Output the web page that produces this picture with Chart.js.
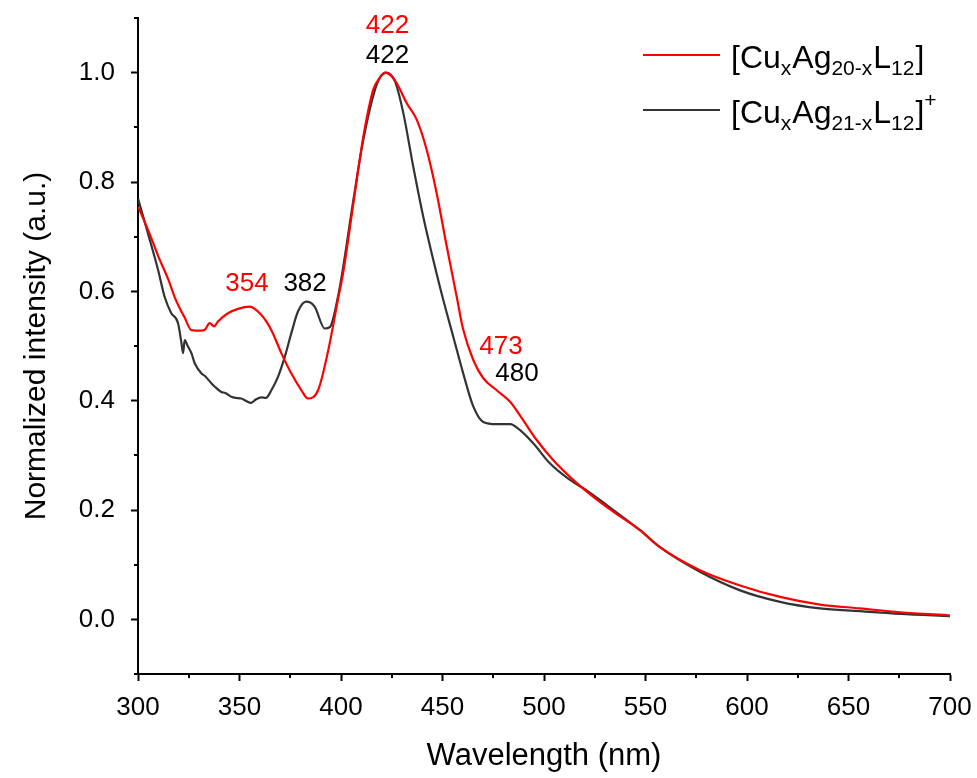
<!DOCTYPE html>
<html>
<head>
<meta charset="utf-8">
<title>Normalized absorption spectra</title>
<script src="https://cdn.jsdelivr.net/npm/chart.js@4.4.1/dist/chart.umd.min.js"></script>
<style>
  html, body { margin: 0; padding: 0; background: #fff; }
  #wrap { width: 977px; height: 778px; }
</style>
</head>
<body>
<div id="wrap"><canvas id="spectra" width="977" height="778"></canvas></div>
<script>
/* ─── Data ───────────────────────────────────────── */
const redLabel   = '[CuxAg20-xL12]';
const blackLabel = '[CuxAg21-xL12]+';

const redX = [300, 305, 310, 315, 318, 321, 323, 326.3, 331.2, 333, 335.3, 337.5, 339.4, 344.3, 349.3,
  355, 360.7, 365.7, 370.6, 375.5, 380.5, 383.7, 388.7, 393.6, 398.5, 401.1, 406.1, 411, 415.9, 419,
  422, 425, 427.4, 432.4, 437.3, 442.2, 447.1, 452.1, 457, 460.2, 465.2, 470.1, 476.7, 483.3, 489.8,
  496.4, 504.6, 514.4, 524.3, 534.1, 547.3, 557.1, 576.8, 596.6, 616.3, 636, 655.7, 675.4, 700];
const redY = [0.755, 0.712, 0.664, 0.621, 0.590, 0.566, 0.552, 0.529, 0.528, 0.530, 0.542, 0.536, 0.545, 0.560, 0.568,
  0.572, 0.557, 0.529, 0.487, 0.450, 0.419, 0.404, 0.419, 0.490, 0.585, 0.635, 0.761, 0.883, 0.969, 0.990,
  1.000, 0.993, 0.981, 0.944, 0.914, 0.859, 0.780, 0.682, 0.590, 0.530, 0.474, 0.441, 0.419, 0.398, 0.364,
  0.328, 0.291, 0.255, 0.224, 0.197, 0.163, 0.132, 0.090, 0.062, 0.041, 0.027, 0.020, 0.013, 0.007];

const blackX = [300, 304.9, 309.9, 313.1, 316.4, 319.7, 321.3, 322.2, 323, 324.5, 326.3, 328, 331.2, 333,
  336.1, 338, 341, 343, 346, 348, 350.9, 353, 355.8, 358, 360.7, 363, 365.7, 369, 372.3, 375.5, 378.8,
  382.9, 387, 392, 394.6, 398.5, 401.1, 406.1, 411, 417.6, 422, 426.6, 430.7, 435.6, 440.5, 445.5,
  450.4, 455.3, 460.2, 465.2, 470.1, 476.7, 483.3, 488.2, 494.7, 503, 512.8, 521, 530.9, 547.3, 557.1,
  576.8, 596.6, 616.3, 636, 655.7, 675.4, 700];
const blackY = [0.770, 0.706, 0.639, 0.590, 0.560, 0.542, 0.508, 0.487, 0.511, 0.500, 0.487, 0.468, 0.450, 0.445,
  0.432, 0.425, 0.416, 0.414, 0.407, 0.405, 0.404, 0.400, 0.396, 0.402, 0.406, 0.405, 0.419, 0.444, 0.480, 0.523, 0.563,
  0.581, 0.572, 0.532, 0.535, 0.590, 0.645, 0.767, 0.877, 0.978, 1.000, 0.984, 0.926, 0.828, 0.737, 0.657,
  0.584, 0.517, 0.450, 0.389, 0.361, 0.357, 0.357, 0.346, 0.322, 0.285, 0.255, 0.236, 0.209, 0.163, 0.132,
  0.087, 0.053, 0.032, 0.020, 0.015, 0.010, 0.006];

const xTicks      = [300, 350, 400, 450, 500, 550, 600, 650, 700];
const xMinorTicks = [325, 375, 425, 475, 525, 575, 625, 675];
const yTicks      = [0.0, 0.2, 0.4, 0.6, 0.8, 1.0];
const yMinorTicks = [-0.1, 0.1, 0.3, 0.5, 0.7, 0.9, 1.1];

// peak labels: text, wavelength (centre), value (baseline)
const peakText  = ['422', '422', '354', '382', '473', '480'];
const peakX     = [422.9, 422.9, 353.7, 382.3, 478.8, 486.7];
const peakY     = [1.073, 1.018, 0.601, 0.601, 0.485, 0.436];
const peakColor = ['#ff0000', '#000000', '#ff0000', '#000000', '#ff0000', '#000000'];

const RED   = '#ff0000';
const BLACK = '#333333';
const FONT  = "'Liberation Sans', Arial, sans-serif";

/* ─── Plugins ────────────────────────────────────── */
const minorTicks = {
  id: 'minorTicks',
  afterDraw(chart) {
    const { ctx, scales: { x, y } } = chart;
    ctx.save();
    ctx.strokeStyle = '#000';
    ctx.lineWidth = 2;
    ctx.beginPath();
    xMinorTicks.forEach(v => {
      const px = Math.round(x.getPixelForValue(v));
      ctx.moveTo(px, y.bottom);
      ctx.lineTo(px, y.bottom + 4);
    });
    yMinorTicks.forEach(v => {
      const py = Math.round(y.getPixelForValue(v));
      ctx.moveTo(x.left, py);
      ctx.lineTo(x.left - 4, py);
    });
    ctx.stroke();
    ctx.restore();
  }
};

const peakLabels = {
  id: 'peakLabels',
  afterDatasetsDraw(chart) {
    const { ctx, scales: { x, y } } = chart;
    ctx.save();
    ctx.font = `26px ${FONT}`;
    ctx.textAlign = 'center';
    ctx.textBaseline = 'alphabetic';
    peakText.forEach((t, i) => {
      ctx.fillStyle = peakColor[i];
      ctx.fillText(t, x.getPixelForValue(peakX[i]), y.getPixelForValue(peakY[i]));
    });
    ctx.restore();
  }
};

// legend with sub/superscripts (Chart.js legend can't do these)
const LEGEND_PARTS = [
  [['[Cu'], ['x', 'sub'], ['Ag'], ['20-x', 'sub'], ['L'], ['12', 'sub'], [']']],
  [['[Cu'], ['x', 'sub'], ['Ag'], ['21-x', 'sub'], ['L'], ['12', 'sub'], [']'], ['+', 'sup']]
];

const richLegend = {
  id: 'richLegend',
  afterDraw(chart) {
    const { ctx } = chart;
    ctx.save();
    chart.data.datasets.forEach((ds, i) => {
      const rowY = 55 + i * 55;
      ctx.strokeStyle = ds.borderColor;
      ctx.lineWidth = 2;
      ctx.beginPath();
      ctx.moveTo(643, rowY);
      ctx.lineTo(720, rowY);
      ctx.stroke();

      let cx = 731;
      const base = rowY + 13;
      ctx.fillStyle = '#000';
      ctx.textBaseline = 'alphabetic';
      ctx.textAlign = 'left';
      LEGEND_PARTS[i].forEach(([t, kind]) => {
        let dy = 0;
        if (kind === 'sub') { ctx.font = `21px ${FONT}`; dy = 7; }
        else if (kind === 'sup') { ctx.font = `21px ${FONT}`; dy = -16; }
        else ctx.font = `32px ${FONT}`;
        ctx.fillText(t, cx, base + dy);
        cx += ctx.measureText(t).width + (kind ? 1 : 0);
      });
    });
    ctx.restore();
  }
};

/* ─── Chart ──────────────────────────────────────── */
const toPoints = (xs, ys) => xs.map((x, i) => ({ x, y: ys[i] }));

new Chart(document.getElementById('spectra').getContext('2d'), {
  type: 'line',
  data: {
    datasets: [
      {
        label: redLabel,
        data: toPoints(redX, redY),
        borderColor: RED,
        borderWidth: 2.2,
        pointRadius: 0,
        cubicInterpolationMode: 'monotone',
      },
      {
        label: blackLabel,
        data: toPoints(blackX, blackY),
        borderColor: BLACK,
        borderWidth: 2.2,
        pointRadius: 0,
        cubicInterpolationMode: 'monotone',
      }
    ]
  },
  options: {
    responsive: false,
    animation: false,
    layout: { padding: { top: 18, right: 27, left: 0, bottom: 0 } },
    plugins: {
      legend: { display: false },
      tooltip: { enabled: false }
    },
    scales: {
      x: {
        type: 'linear',
        min: 300, max: 700,
        afterBuildTicks: s => { s.ticks = xTicks.map(v => ({ value: v })); },
        afterFit: s => { s.height = 104; s.paddingLeft = 0; s.paddingRight = 0; },
        grid: { drawOnChartArea: false, tickLength: 7, tickWidth: 2, tickColor: '#000' },
        border: { color: '#000', width: 2 },
        ticks: { color: '#000', font: { family: FONT, size: 26 }, padding: 11, maxRotation: 0, autoSkip: false },
        title: {
          display: true, text: 'Wavelength (nm)', color: '#000',
          font: { family: FONT, size: 31 }, padding: { top: 0, bottom: 3 }
        }
      },
      y: {
        min: -0.1, max: 1.1,
        afterBuildTicks: s => { s.ticks = yTicks.map(v => ({ value: v })); },
        afterFit: s => { s.width = 138; s.paddingTop = 0; s.paddingBottom = 0; },
        grid: { drawOnChartArea: false, tickLength: 7, tickWidth: 2, tickColor: '#000' },
        border: { color: '#000', width: 2 },
        ticks: {
          color: '#000', font: { family: FONT, size: 26 }, padding: 16,
          callback: v => v.toFixed(1)
        },
        title: {
          display: true, text: 'Normalized intensity (a.u.)', color: '#000',
          font: { family: FONT, size: 30 }, padding: { top: 19, bottom: 0 }
        }
      }
    }
  },
  plugins: [minorTicks, peakLabels, richLegend]
});
</script>
</body>
</html>
